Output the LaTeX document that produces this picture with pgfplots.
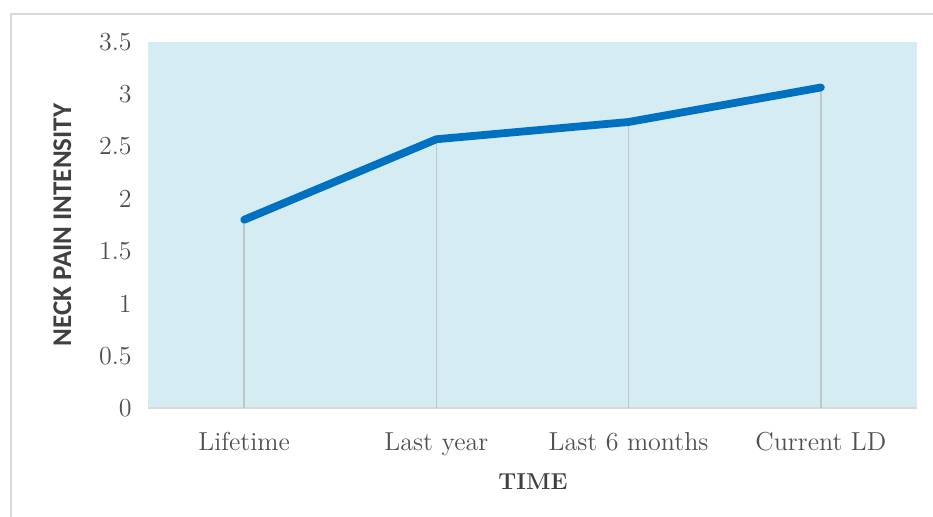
\documentclass[border=0pt]{standalone}
\usepackage{fontspec}
\usepackage{pgfplots}
\pgfplotsset{compat=1.18}
\newfontfamily\carlito{Carlito}
\definecolor{bgblue}{RGB}{212,236,242}
\definecolor{lineblue}{RGB}{0,112,192}
\definecolor{dropgray}{RGB}{188,198,204}
\definecolor{axgray}{RGB}{217,217,217}
\definecolor{txtgray}{RGB}{80,80,80}
\definecolor{lblgray}{RGB}{64,64,64}
\begin{document}
\begin{tikzpicture}
\useasboundingbox (0,0) rectangle (466.5pt,258.5pt);
\draw[axgray, line width=1pt] (5.5pt,0) -- (5.5pt,251.5pt) -- (466.5pt,251.5pt);
\begin{axis}[
  at={(74pt,54.5pt)}, anchor=south west,
  scale only axis, width=384.5pt, height=183pt,
  xmin=-0.5, xmax=3.5, ymin=0, ymax=3.5,
  xtick={0,1,2,3},
  xticklabels={Lifetime, Last year, Last 6 months, Current LD},
  ytick={0,0.5,1,1.5,2,2.5,3,3.5},
  yticklabels={0,0.5,1,1.5,2,2.5,3,3.5},
  major tick length=0pt,
  axis x line*=bottom, axis y line*=left,
  x axis line style={draw=axgray, line width=0.8pt},
  y axis line style={draw=none},
  axis background/.style={fill=bgblue},
  xticklabel style={font=\fontsize{13pt}{15pt}\selectfont, text=txtgray, anchor=base, inner sep=0pt, yshift=-21.5pt},
  yticklabel style={font=\fontsize{13pt}{15pt}\selectfont, text=txtgray, anchor=east, inner sep=0pt, xshift=-8pt},
  clip=false,
]
\addplot[ycomb, dropgray, line width=0.8pt, no marks] coordinates {(0,1.80) (1,2.57) (2,2.735) (3,3.065)};
\addplot[lineblue, line width=3.9pt, line cap=round, line join=round, no marks] coordinates {(0,1.80) (1,2.57) (2,2.735) (3,3.065)};
\end{axis}
\node[anchor=base, text=lblgray, font=\fontsize{11.5pt}{14pt}\selectfont\bfseries, inner sep=0pt] at (266.5pt,13.5pt) {TIME};
\node[anchor=base, rotate=90, text=lblgray, font=\carlito\fontsize{13.5pt}{16pt}\selectfont\bfseries, inner sep=0pt] at (35.5pt,146pt) {NECK PAIN INTENSITY};
\end{tikzpicture}
\end{document}
